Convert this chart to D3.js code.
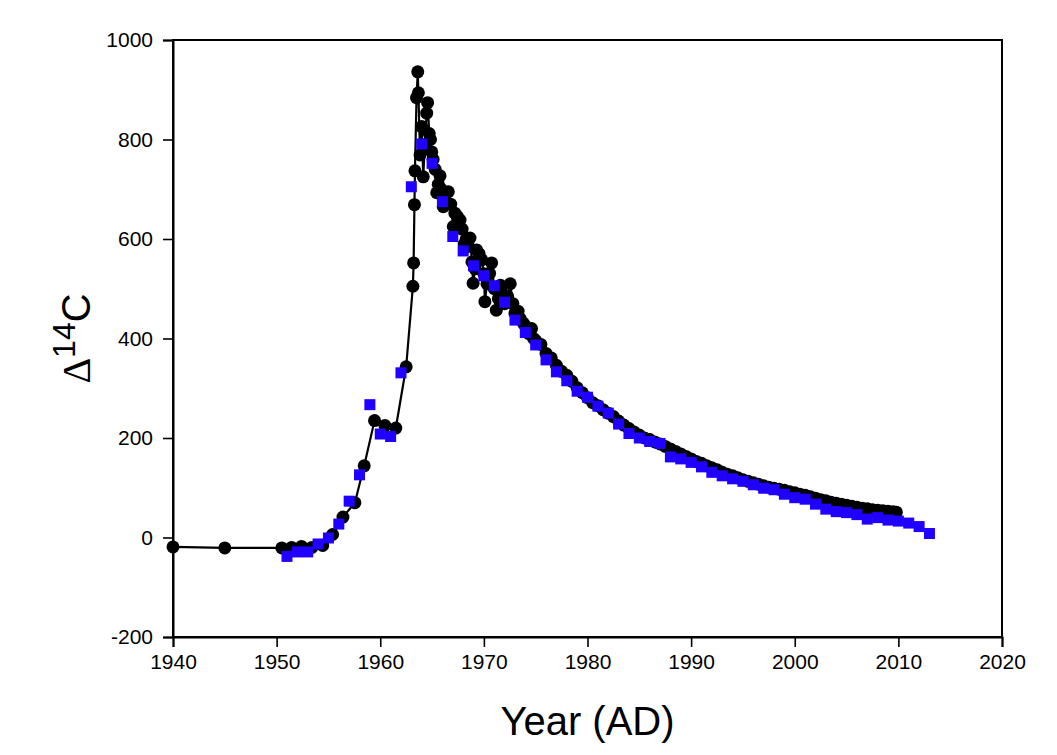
<!DOCTYPE html>
<html>
<head>
<meta charset="utf-8">
<script src="https://cdn.jsdelivr.net/npm/d3@7"></script>
<style>
  html, body { margin: 0; padding: 0; background: #fff; }
  svg text { font-family: "Liberation Sans", Arial, sans-serif; fill: #000; }
</style>
</head>
<body>
<svg id="chart" width="1057" height="755"></svg>
<script>
// ---- Data ----
const xTicks = [1940, 1950, 1960, 1970, 1980, 1990, 2000, 2010, 2020];
const yTicks = [-200, 0, 200, 400, 600, 800, 1000];

// Series 1: black circles joined by a line (year, Δ14C), in time order
const blackYears = [
  1940.0, 1945.0, 1950.5, 1951.45, 1952.4, 1953.4, 1954.45, 1955.4, 1956.4, 1957.55,
  1958.45, 1959.45, 1960.45, 1961.5, 1962.5,
  1963.15, 1963.22, 1963.3, 1963.35, 1963.5, 1963.62, 1963.68, 1963.84, 1964.0, 1964.15,
  1964.3, 1964.48, 1964.57, 1964.73, 1964.85, 1964.97, 1965.1, 1965.3, 1965.45, 1965.6,
  1965.77, 1965.9, 1966.08, 1966.3, 1966.57, 1966.8, 1967.05, 1967.2, 1967.45, 1967.7,
  1967.9, 1968.1, 1968.3, 1968.5, 1968.66, 1968.85, 1968.96, 1969.15, 1969.3, 1969.55,
  1969.8, 1970.0, 1970.1, 1970.3, 1970.55, 1970.75, 1971.0, 1971.2, 1971.4, 1971.6,
  1971.8, 1972.0, 1972.3, 1972.55, 1972.8, 1973.0, 1973.3, 1973.5, 1973.8, 1974.0,
  1974.3, 1974.6, 1974.8, 1975.0, 1975.5, 1976.0, 1976.5, 1977.0, 1977.5, 1978.0,
  1978.5, 1979.0, 1979.5, 1980.0, 1980.5, 1981.0, 1981.5, 1982.0, 1982.5, 1983.0,
  1983.5, 1984.0, 1984.5, 1985.0, 1985.5, 1986.0, 1986.5, 1987.0, 1987.5, 1988.0,
  1988.5, 1989.0, 1989.5, 1990.0, 1990.5, 1991.0, 1991.5, 1992.0, 1992.5, 1993.0,
  1993.5, 1994.0, 1994.5, 1995.0, 1995.5, 1996.0, 1996.5, 1997.0, 1997.5, 1998.0,
  1998.5, 1999.0, 1999.5, 2000.0, 2000.5, 2001.0, 2001.5, 2002.0, 2002.5, 2003.0,
  2003.5, 2004.0, 2004.5, 2005.0, 2005.5, 2006.0, 2006.5, 2007.0, 2007.5, 2008.0,
  2008.5, 2009.0, 2009.5, 2009.8
];
const blackValues = [
  -19, -21, -21, -20, -18, -20, -16, 6, 41, 70,
  144, 235, 225, 220, 343,
  505, 552, 669, 737, 884, 936, 894, 769, 826, 725,
  790, 853, 874, 812, 800, 775, 760, 740, 693, 710,
  727, 700, 665, 690, 695, 670, 625, 652, 645, 638,
  620, 590, 600, 585, 602, 554, 511, 540, 578, 570,
  558, 530, 474, 510, 531, 552, 500, 457, 480, 507,
  490, 470, 484, 510, 470, 451, 455, 440, 431, 425,
  410, 420, 400, 396, 388, 370, 361, 346, 334, 326,
  314, 301, 291, 281, 271, 265, 257, 250, 243, 234,
  226, 219, 212, 206, 200, 197, 192, 188, 183, 178,
  173, 168, 163, 158, 153, 149, 144, 140, 136, 131,
  127, 124, 120, 116, 113, 110, 107, 104, 101, 99,
  97, 95, 92, 90, 87, 85, 82, 79, 76, 74,
  71, 69, 67, 65, 63, 61, 59, 58, 56, 55,
  54, 53, 52, 51
];

// Series 2: blue squares (year, Δ14C)
const blueYears = [
  1951, 1952, 1953, 1954, 1955, 1956, 1957, 1958, 1959, 1960,
  1961, 1962, 1963, 1964, 1965, 1966, 1967, 1968, 1969, 1970,
  1971, 1972, 1973, 1974, 1975, 1976, 1977, 1978, 1979, 1980,
  1981, 1982, 1983, 1984, 1985, 1986, 1987, 1988, 1989, 1990,
  1991, 1992, 1993, 1994, 1995, 1996, 1997, 1998, 1999, 2000,
  2001, 2002, 2003, 2004, 2005, 2006, 2007, 2008, 2009, 2010,
  2011, 2012, 2013
];
const blueValues = [
  -38, -29, -29, -13, -1, 27, 73, 126, 267, 208,
  203, 331, 705, 791, 752, 675, 605, 576, 546, 526,
  506, 473, 437, 412, 387, 357, 333, 315, 294, 282,
  264, 250, 228, 209, 200, 193, 189, 162, 158, 151,
  142, 131, 124, 118, 113, 106, 99, 96, 87, 80,
  77, 67, 57, 52, 50, 46, 37, 40, 35, 33,
  29, 22, 8
];

// ---- Layout ----
const svg = d3.select("#chart");
const mLeft = 173, mRight = 1002, mTop = 40, mBottom = 637;

const x = d3.scaleLinear().domain([1940, 2020]).range([mLeft, mRight]);
const y = d3.scaleLinear().domain([-200, 1000]).range([mBottom, mTop]);

// Frame
svg.append("rect")
  .attr("x", mLeft).attr("y", mTop)
  .attr("width", mRight - mLeft).attr("height", mBottom - mTop)
  .attr("fill", "none").attr("stroke", "#000").attr("stroke-width", 2);

// Axes
const fmt = d => String(d);
const xAxis = d3.axisBottom(x).tickValues(xTicks).tickFormat(fmt)
  .tickSize(10).tickPadding(7);
const yAxis = d3.axisLeft(y).tickValues(yTicks).tickFormat(fmt)
  .tickSize(10).tickPadding(10);

const gx = svg.append("g").attr("transform", `translate(0,${mBottom})`).call(xAxis);
const gy = svg.append("g").attr("transform", `translate(${mLeft},0)`).call(yAxis);
[gx, gy].forEach(g => {
  g.select(".domain").attr("stroke", "#000").attr("stroke-width", 2);
  g.selectAll(".tick line").attr("stroke", "#000").attr("stroke-width", 1.6);
  g.selectAll(".tick text").style("font-family", '"Liberation Sans", Arial, sans-serif')
    .style("font-size", "21px").attr("fill", "#000");
});

// Line + black circles
const blackData = blackYears.map((yr, i) => ({ yr, v: blackValues[i] }));
const line = d3.line().x(d => x(d.yr)).y(d => y(d.v));
svg.append("path").datum(blackData)
  .attr("d", line).attr("fill", "none").attr("stroke", "#000").attr("stroke-width", 2.2);
svg.append("g").selectAll("circle").data(blackData).join("circle")
  .attr("cx", d => x(d.yr)).attr("cy", d => y(d.v)).attr("r", 6.5).attr("fill", "#000");

// Blue squares
const blueData = blueYears.map((yr, i) => ({ yr, v: blueValues[i] }));
const sq = 11;
svg.append("g").selectAll("rect").data(blueData).join("rect")
  .attr("x", d => x(d.yr) - sq / 2).attr("y", d => y(d.v) - sq / 2)
  .attr("width", sq).attr("height", sq).attr("fill", "#2000ff");

// Axis titles
svg.append("text")
  .attr("x", (mLeft + mRight) / 2).attr("y", 735)
  .attr("text-anchor", "middle")
  .style("font-size", "40px")
  .text("Year (AD)");

const yt = svg.append("text")
  .attr("transform", `translate(90,${(mTop + mBottom) / 2}) rotate(-90)`)
  .attr("text-anchor", "middle")
  .style("font-size", "40px");
yt.append("tspan").style("font-family", '"Liberation Serif", "Times New Roman", serif').text("Δ");
yt.append("tspan").attr("dy", "-15").style("font-size", "32px").text("14");
yt.append("tspan").attr("dy", "15").text("C");
</script>
</body>
</html>
